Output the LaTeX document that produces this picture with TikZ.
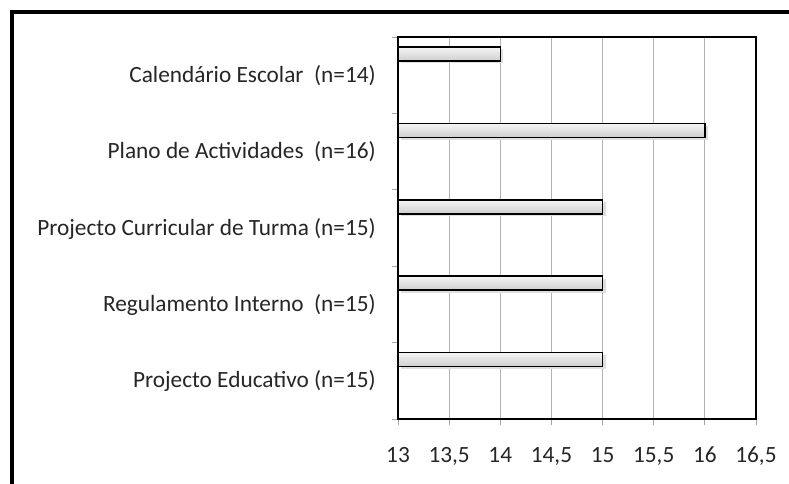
\documentclass[tikz,border=0pt]{standalone}
\usepackage{fontspec}
\setmainfont{Carlito}
\tikzset{
  bar/.style={draw=black, line width=1.6pt, top color=gray!8, bottom color=gray!38},
  grid line/.style={gray!60, line width=0.9pt},
  cat label/.style={anchor=base east, inner sep=0pt, font=\fontsize{23.3}{25}\selectfont, text=black!85},
  tick label/.style={anchor=base, inner sep=0pt, font=\fontsize{23.3}{25}\selectfont, text=black!85}
}
\begin{document}
\begin{tikzpicture}[x=1pt, y=-1pt]
	\useasboundingbox (0,0) rectangle (789,484);
	
	% outer frame
	\draw[line width=4pt] (12,486) -- (12,12) -- (791,12);
	
	% grid
	\foreach \i in {1,...,6}
		\draw[grid line] (398+\i*51.14,37) -- (398+\i*51.14,419);
	
	% x ticks and labels
	\foreach \v [count=\i from 0] in {13,{13,5},14,{14,5},15,{15,5},16,{16,5}} {
		\draw[gray!70, line width=0.9pt] (398+\i*51.14,419) -- (398+\i*51.14,425);
		\node[tick label] (xl\i) at (398+\i*51.14,462) {\v};
	}
	
	% y ticks
	\foreach \i in {0,...,5}
		\draw[gray!70, line width=0.9pt] (392,37+\i*76.4) -- (398,37+\i*76.4);
	
	% bars and labels
	\foreach \val/\txt [count=\i from 0] in {14/{Calendário Escolar\ \ (n=14)},
			16/{Plano de Actividades\ \ (n=16)},
			15/{Projecto Curricular de Turma (n=15)},
			15/{Regulamento Interno\ \ (n=15)},
			15/{Projecto Educativo (n=15)}} {
		\pgfmathsetmacro{\xe}{398+(\val-13)*102.3}
		\pgfmathsetmacro{\yt}{37+\i*76.4}
		\fill[gray!25] (401,\yt+12.5) rectangle (\xe+3,\yt+26.5);
		\draw[bar] (398,\yt+10) rectangle (\xe,\yt+24);
		\node[cat label] (cat\i) at (376,\yt+45.2) {\txt};
	}
	
	% plot frame
	\draw[line width=2.6pt] (398,37) rectangle (756,419);
	
\end{tikzpicture}
\end{document}
